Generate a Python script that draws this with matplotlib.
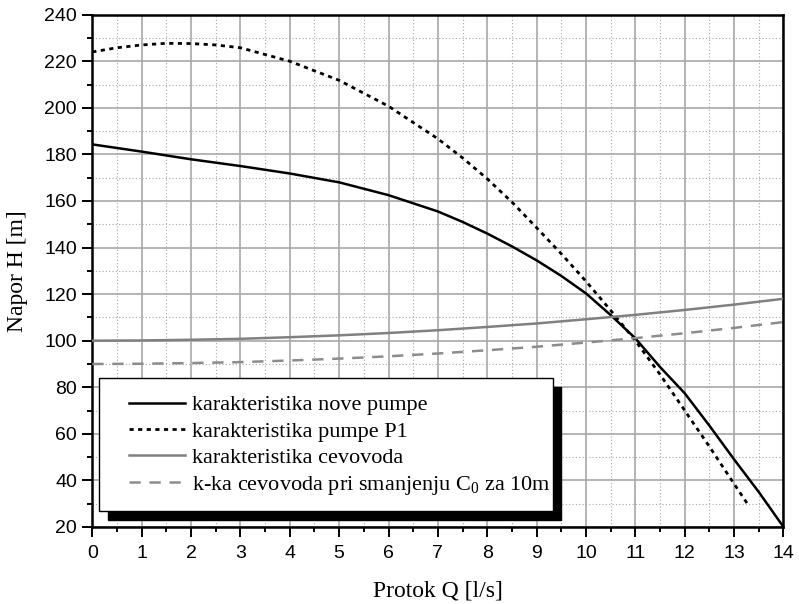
import matplotlib
matplotlib.use("Agg")
import matplotlib.pyplot as plt
from matplotlib.patches import Rectangle
from matplotlib.ticker import MultipleLocator

# ocitane vrednosti sa grafika
q_nova = [0, 1, 2, 3, 4, 5, 6, 7, 7.5, 8, 8.5, 9, 9.5, 10, 10.5, 11, 11.5,
          12, 12.5, 13, 13.5, 14]
h_nova = [184.3, 181.2, 177.9, 175.0, 171.8, 168.0, 162.5, 155.5, 151.0,
          146.0, 140.5, 134.5, 127.8, 120.3, 111.0, 101.0, 88.7, 77.4, 63.5,
          49.0, 35.0, 20.0]

q_p1 = [0, 0.5, 1, 1.5, 2, 2.5, 3, 4, 5, 6, 7, 7.5, 8, 8.5, 9, 9.5, 10,
        10.5, 11, 11.5, 12, 12.5, 13, 13.3]
h_p1 = [224.0, 225.8, 227.0, 227.7, 227.6, 227.0, 225.8, 220.0, 211.8, 200.7,
        186.7, 178.5, 169.5, 159.5, 148.5, 137.3, 125.5, 113.0, 100.0, 85.5,
        70.0, 54.5, 38.5, 29.0]

q_cev = [0, 1, 2, 3, 4, 5, 6, 7, 8, 9, 10, 11, 12, 13, 14]
h_cev = [100.0, 100.1, 100.4, 100.8, 101.5, 102.3, 103.3, 104.5, 105.9,
         107.4, 109.2, 111.1, 113.2, 115.5, 118.0]
h_cev10 = [90.0, 90.1, 90.4, 90.8, 91.5, 92.3, 93.3, 94.5, 95.9,
           97.4, 99.2, 101.1, 103.2, 105.5, 108.0]

labels = ["karakteristika nove pumpe",
          "karakteristika pumpe P1",
          "karakteristika cevovoda",
          "k-ka cevovoda pri smanjenju C$_{\\mathregular{0}}$ za 10m"]

plt.rcParams['font.family'] = ['Liberation Serif', 'DejaVu Serif']
plt.rcParams['mathtext.fontset'] = 'custom'
plt.rcParams['mathtext.rm'] = 'Liberation Serif'

fig = plt.figure(figsize=(7.99, 6.04), dpi=100)
ax = fig.add_axes([0.1155, 0.1275, 0.8651, 0.8482])

ax.plot(q_nova, h_nova, color='black', lw=1.8, label=labels[0], zorder=3)
ax.plot(q_p1, h_p1, color='black', lw=2.0, ls=(0, (1.5, 1.6)), label=labels[1], zorder=3)
ax.plot(q_cev, h_cev, color='#808080', lw=1.8, label=labels[2], zorder=3)
ax.plot(q_cev, h_cev10, color='#8c8c8c', lw=1.8, ls=(0, (4.5, 3.5)), label=labels[3], zorder=3)

ax.set_xlim(0, 14)
ax.set_ylim(20, 240)
ax.xaxis.set_major_locator(MultipleLocator(1))
ax.xaxis.set_minor_locator(MultipleLocator(0.5))
ax.yaxis.set_major_locator(MultipleLocator(20))
ax.yaxis.set_minor_locator(MultipleLocator(10))

ax.grid(which='major', color='#a8a8a8', lw=1.2, ls='-')
ax.grid(which='minor', color='#a8a8a8', lw=0.8, ls=(0, (1, 2)))
ax.set_axisbelow(True)

for s in ax.spines.values():
    s.set_linewidth(1.8)
ax.tick_params(which='major', direction='out', length=7, width=1.4, labelsize=14)
ax.tick_params(which='minor', direction='out', length=3.5, width=1.4)
ax.tick_params(axis='x', which='major', pad=6)
ax.tick_params(axis='y', which='major', pad=4)
for t in ax.get_xticklabels() + ax.get_yticklabels():
    t.set_fontfamily('Liberation Sans')

ax.set_xlabel("Protok Q [l/s]", fontsize=17, labelpad=13)
ax.set_ylabel("Napor H [m]", fontsize=17, labelpad=12)

# okvir legende sa crnom senkom
bx, by, bw, bh = 0.0101, 0.0308, 0.6564, 0.2595
ax.add_patch(Rectangle((bx + 0.0123, by - 0.0166), bw, bh, transform=ax.transAxes,
                       facecolor='black', edgecolor='black', zorder=4))
ax.add_patch(Rectangle((bx, by), bw, bh, transform=ax.transAxes,
                       facecolor='white', edgecolor='black', lw=1.0, zorder=5))

leg = ax.legend(loc='upper left', bbox_to_anchor=(0.0531, 0.258), frameon=False,
                fontsize=16, borderpad=0, borderaxespad=0, handlelength=2.5,
                handletextpad=0.35, labelspacing=0.26)
leg.set_zorder(6)

fig.savefig("out.png", dpi=100)
